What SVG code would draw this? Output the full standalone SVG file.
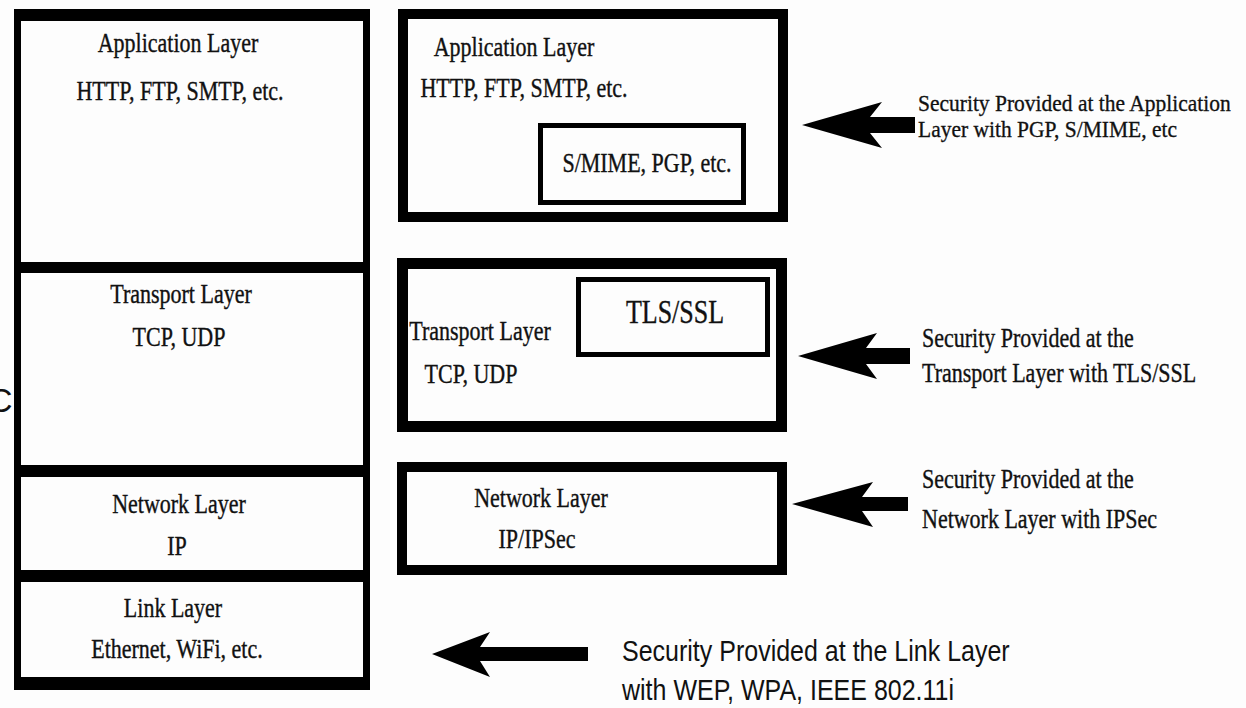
<svg xmlns="http://www.w3.org/2000/svg" width="1246" height="708" viewBox="0 0 1246 708">
<style>
.bg{fill:#fdfdfd}
.frame{fill:#000}
.cell{fill:#fdfdfd}
.box{fill:#fdfdfd;stroke:#000}
.t{font-family:"Liberation Serif","Times New Roman",serif;font-size:22px;fill:#111;stroke:#111;stroke-width:0.3}
.tm{text-anchor:middle}
.big{font-size:26px}
.s{font-family:"Liberation Sans",Arial,sans-serif;font-size:25px;fill:#111}
.arrow{fill:#000}
</style>
<rect class="bg" x="0" y="0" width="1246" height="708"/>
<text class="s" x="-12" y="412" style="font-size:34px">C</text>

<g id="left-stack">
  <rect class="frame" x="14" y="9" width="356" height="681"/>
  <g id="left-application">
    <rect class="cell" x="21" y="21" width="342" height="241"/>
    <text class="t tm" transform="translate(178 52) scale(1 1.28)">Application Layer</text>
    <text class="t tm" transform="translate(180 100) scale(1 1.28)">HTTP, FTP, SMTP, etc.</text>
  </g>
  <g id="left-transport">
    <rect class="cell" x="21" y="273" width="342" height="192"/>
    <text class="t tm" transform="translate(181 303) scale(1 1.28)">Transport Layer</text>
    <text class="t tm" transform="translate(179 346) scale(1 1.28)">TCP, UDP</text>
  </g>
  <g id="left-network">
    <rect class="cell" x="21" y="477" width="342" height="93"/>
    <text class="t tm" transform="translate(179 513) scale(1 1.28)">Network Layer</text>
    <text class="t tm" transform="translate(177 555) scale(1 1.28)">IP</text>
  </g>
  <g id="left-link">
    <rect class="cell" x="21" y="582" width="342" height="95"/>
    <text class="t tm" transform="translate(173 617) scale(1 1.28)">Link Layer</text>
    <text class="t tm" transform="translate(177 658) scale(1 1.28)">Ethernet, WiFi, etc.</text>
  </g>
</g>

<g id="right-application">
  <rect class="box" x="403" y="14" width="380" height="203" stroke-width="10"/>
  <text class="t tm" transform="translate(514 56) scale(1 1.28)">Application Layer</text>
  <text class="t tm" transform="translate(524 97) scale(1 1.28)">HTTP, FTP, SMTP, etc.</text>
  <g id="smime">
    <rect class="box" x="540.5" y="125.5" width="203" height="77" stroke-width="5"/>
    <text class="t tm" transform="translate(647 172) scale(1 1.28)">S/MIME, PGP, etc.</text>
  </g>
</g>

<g id="right-transport">
  <rect class="box" x="402.5" y="263.5" width="379" height="163" stroke-width="11"/>
  <text class="t tm" transform="translate(480 340) scale(1 1.28)">Transport Layer</text>
  <text class="t tm" transform="translate(471 383) scale(1 1.28)">TCP, UDP</text>
  <g id="tls">
    <rect class="box" x="578.5" y="279.5" width="189" height="75" stroke-width="5"/>
    <text class="t tm big" transform="translate(675 323) scale(1 1.28)">TLS/SSL</text>
  </g>
</g>

<g id="right-network">
  <rect class="box" x="402" y="467" width="380" height="103" stroke-width="10"/>
  <text class="t tm" transform="translate(541 507) scale(1 1.28)">Network Layer</text>
  <text class="t tm" transform="translate(537 548) scale(1 1.28)">IP/IPSec</text>
</g>

<g id="connectors">
  <polygon class="arrow" points="802,125 882,102 870,117 915,117 915,133 870,133 882,148"/>
  <polygon class="arrow" points="798,356 877,333 866,348 910,348 910,364 866,364 877,379"/>
  <polygon class="arrow" points="792,504 873,482 862,497 908,497 908,511 862,511 873,527"/>
  <polygon class="arrow" points="432,654 490,632 480,647 588,647 588,661 480,661 490,677"/>
</g>

<g id="label-application">
  <text class="t" transform="translate(918 111) scale(1 1.12)" style="font-size:21.5px">Security Provided at the Application</text>
  <text class="t" transform="translate(918 137) scale(1 1.12)" style="font-size:21.5px">Layer with PGP, S/MIME, etc</text>
</g>
<g id="label-transport">
  <text class="t" transform="translate(922 347) scale(1 1.28)">Security Provided at the</text>
  <text class="t" transform="translate(922 382) scale(1 1.28)">Transport Layer with TLS/SSL</text>
</g>
<g id="label-network">
  <text class="t" transform="translate(922 488) scale(1 1.28)">Security Provided at the</text>
  <text class="t" transform="translate(922 528) scale(1 1.28)">Network Layer with IPSec</text>
</g>
<g id="label-link">
  <text class="s" transform="translate(622 661) scale(1 1.15)">Security Provided at the Link Layer</text>
  <text class="s" transform="translate(622 700) scale(1 1.15)">with WEP, WPA, IEEE 802.11i</text>
</g>
</svg>
